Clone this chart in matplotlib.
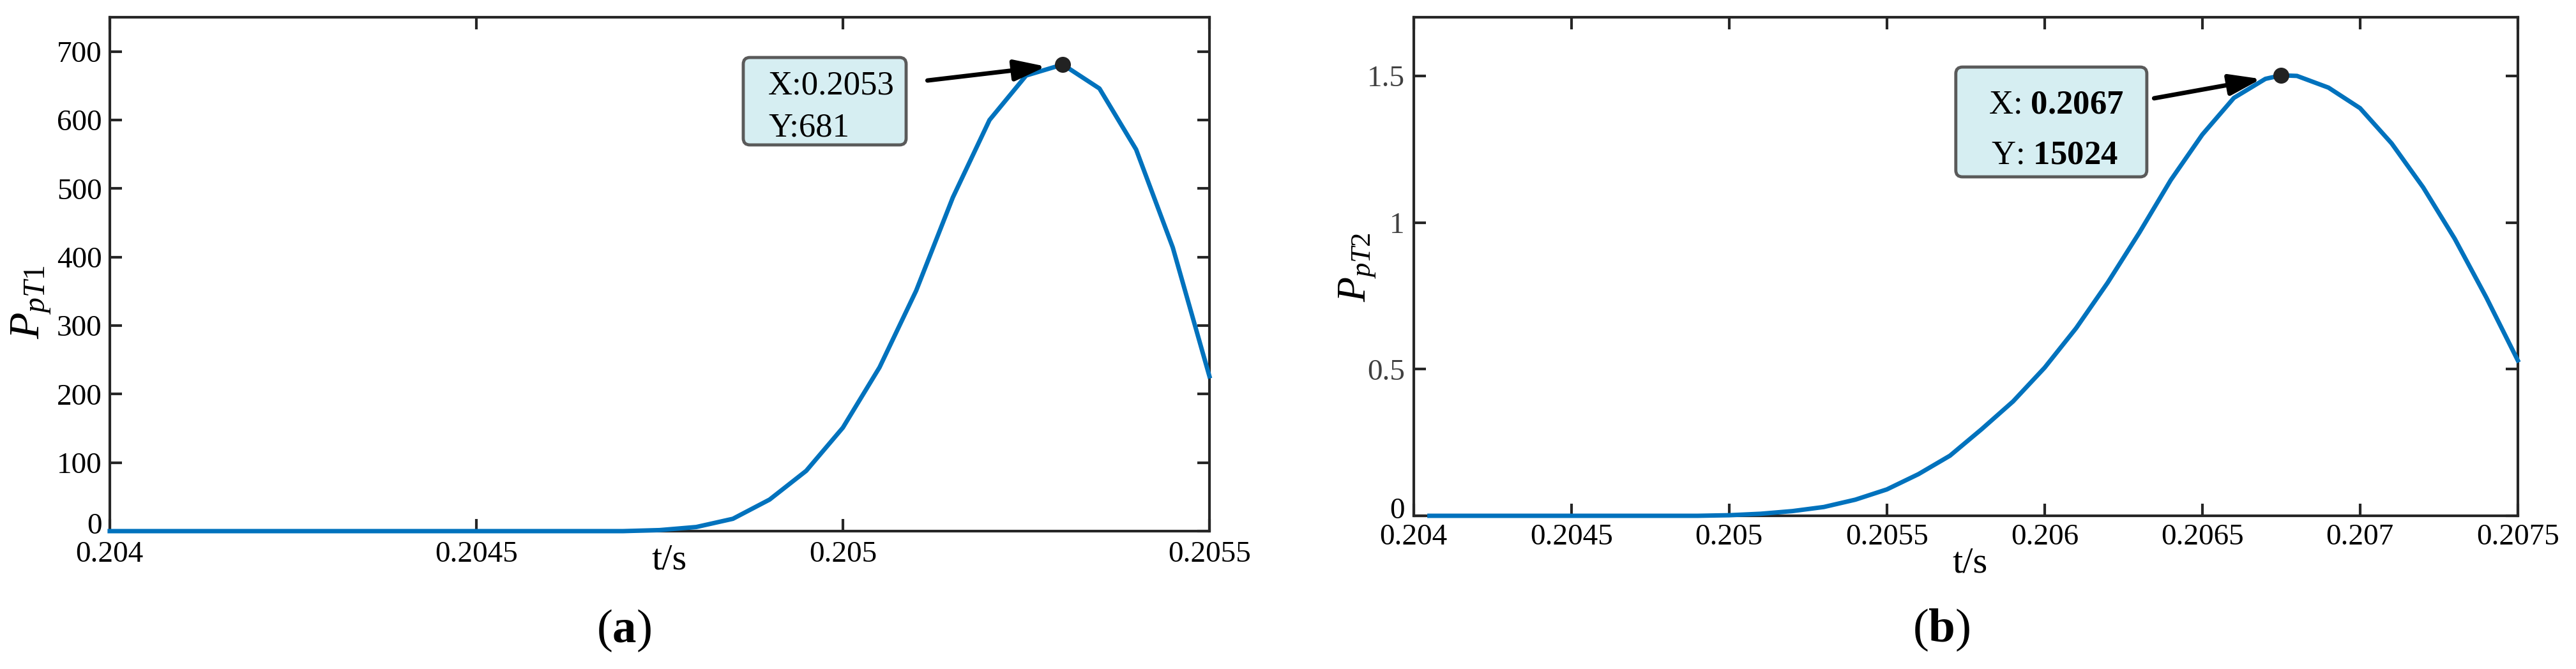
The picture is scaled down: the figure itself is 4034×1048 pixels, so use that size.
import matplotlib
matplotlib.use("Agg")
import matplotlib.pyplot as plt
from matplotlib.patches import FancyBboxPatch
from matplotlib.transforms import ScaledTranslation

# --- values ---
# (a) P_pT1 against time, sampled every 0.05 ms
t_a = [0.20400, 0.20470, 0.20475, 0.20480, 0.20485, 0.20490, 0.20495,
       0.20500, 0.20505, 0.20510, 0.20515, 0.20520, 0.20525, 0.20530,
       0.20535, 0.20540, 0.20545, 0.20550]
p_a = [0, 0, 1.5, 6, 18, 46, 88, 151, 239, 351, 487, 600, 665, 681,
       646, 557, 414, 226]
peak_a = (0.2053, 681)
xticks_a = [0.204, 0.2045, 0.205, 0.2055]
xtick_labels_a = ["0.204", "0.2045", "0.205", "0.2055"]
yticks_a = [0, 100, 200, 300, 400, 500, 600, 700]
ytick_labels_a = ["0", "100", "200", "300", "400", "500", "600", "700"]
datatip_a = ["X:0.2053", "Y:681"]

# (b) P_pT2 against time
t_b = [0.20405, 0.2049, 0.2050, 0.2051, 0.2052, 0.2053, 0.2054, 0.2055,
       0.2056, 0.2057, 0.2058, 0.2059, 0.2060, 0.2061, 0.2062, 0.2063,
       0.2064, 0.2065, 0.2066, 0.2067, 0.20675, 0.2068, 0.2069, 0.2070,
       0.2071, 0.2072, 0.2073, 0.2074, 0.2075]
p_b = [0, 0, 0.002, 0.007, 0.016, 0.030, 0.055, 0.090,
       0.142, 0.205, 0.295, 0.390, 0.505, 0.640, 0.795, 0.965,
       1.145, 1.300, 1.425, 1.490, 1.502, 1.500, 1.460, 1.390,
       1.270, 1.120, 0.945, 0.745, 0.530]
peak_b = (0.20675, 1.502)
xticks_b = [0.204, 0.2045, 0.205, 0.2055, 0.206, 0.2065, 0.207, 0.2075]
xtick_labels_b = ["0.204", "0.2045", "0.205", "0.2055", "0.206",
                  "0.2065", "0.207", "0.2075"]
yticks_b = [0, 0.5, 1, 1.5]
ytick_labels_b = ["0", "0.5", "1", "1.5"]
datatip_b = [r"X: $\mathbf{0.2067}$", r"Y: $\mathbf{15024}$"]

LINE_BLUE = "#0072BD"
AXIS_DARK = "#262626"
TIP_FACE = "#d6eef2"
TIP_EDGE = "#5a5a5a"

plt.rcParams["font.family"] = ["Liberation Serif", "DejaVu Serif"]
plt.rcParams["mathtext.fontset"] = "custom"
plt.rcParams["mathtext.rm"] = "Liberation Serif"
plt.rcParams["mathtext.it"] = "Liberation Serif:italic"
plt.rcParams["mathtext.bf"] = "Liberation Serif:bold"


def style_axes(ax, xpad, ypad):
    """MATLAB-like box axes with inward ticks on all four sides."""
    for side in ax.spines.values():
        side.set_linewidth(3)
        side.set_color(AXIS_DARK)
    ax.tick_params(direction="in", length=14, width=3, color=AXIS_DARK,
                   top=True, right=True, labelsize=34)
    ax.tick_params(axis="x", pad=xpad)
    ax.tick_params(axis="y", pad=ypad)


def lift_zero_label(ax, fig):
    """The '0' label sits a little above the corner, clear of the x labels."""
    lab = ax.yaxis.get_major_ticks()[0].label1
    lab.set_transform(lab.get_transform()
                      + ScaledTranslation(0, 0.12, fig.dpi_scale_trans))


def add_datatip(ax, peak, lines, box, text_pos, tail, shrink):
    """Black marker on the peak, light-blue tip box and an arrow."""
    ax.plot(peak[0], peak[1], "o", ms=17, color="#222222", zorder=6,
            clip_on=False)
    bb = ax.get_position()
    aspect = (bb.width * 4034) / (bb.height * 1048)
    ax.add_patch(FancyBboxPatch((box[0], box[1]), box[2], box[3],
                                boxstyle="round,pad=0,rounding_size=0.006",
                                mutation_aspect=aspect,
                                transform=ax.transAxes, facecolor=TIP_FACE,
                                edgecolor=TIP_EDGE, linewidth=3.5, zorder=4))
    for (x, y), s in zip(text_pos, lines):
        ax.text(x, y, s, transform=ax.transAxes, fontsize=38,
                ha="left", va="baseline", zorder=5)
    ax.annotate("", xy=peak, xytext=tail, textcoords="offset points",
                arrowprops=dict(arrowstyle="-|>,head_length=1.5,head_width=0.5",
                                mutation_scale=20, lw=5, color="black",
                                shrinkA=0, shrinkB=shrink, capstyle="round"),
                zorder=5)


fig = plt.figure(figsize=(40.34, 10.48), dpi=100)

# --- panel (a) ---
ax_a = fig.add_axes([0.0426, 0.2061, 0.4269, 0.7681])
ax_a.plot(t_a, p_a, color=LINE_BLUE, lw=5, clip_on=False, zorder=3)
ax_a.set_xlim(0.204, 0.2055)
ax_a.set_ylim(0, 750)
ax_a.set_xticks(xticks_a, labels=xtick_labels_a)
ax_a.set_yticks(yticks_a, labels=ytick_labels_a)
style_axes(ax_a, xpad=11, ypad=9)
lift_zero_label(ax_a, fig)
ax_a.set_xlabel("t/s", fontsize=42, va="center")
ax_a.xaxis.set_label_coords(0.509, -0.057)
ax_a.set_ylabel(r"$P_{pT1}$", fontsize=49, va="center")
ax_a.yaxis.set_label_coords(-0.071, 0.445)
add_datatip(ax_a, peak_a, datatip_a,
            box=(0.5761, 0.7516, 0.1481, 0.1701),
            text_pos=[(0.5987, 0.8509), (0.5987, 0.7689)],
            tail=(-152.6, -18.0), shrink=19)

# --- panel (b) ---
ax_b = fig.add_axes([0.5488, 0.2290, 0.4286, 0.7452])
ax_b.plot(t_b, p_b, color=LINE_BLUE, lw=5, clip_on=False, zorder=3)
ax_b.set_xlim(0.204, 0.2075)
ax_b.set_ylim(0, 1.7)
ax_b.set_xticks(xticks_b, labels=xtick_labels_b)
ax_b.set_yticks(yticks_b, labels=ytick_labels_b)
style_axes(ax_b, xpad=9, ypad=10)
lift_zero_label(ax_b, fig)
for lab in ax_b.get_yticklabels()[1:]:
    lab.set_color("#404040")
ax_b.set_xlabel("t/s", fontsize=42, va="center")
ax_b.xaxis.set_label_coords(0.504, -0.096)
ax_b.set_ylabel(r"$P_{pT2}$", fontsize=46, va="center")
ax_b.yaxis.set_label_coords(-0.051, 0.499)
add_datatip(ax_b, peak_b, datatip_b,
            box=(0.4910, 0.6799, 0.1730, 0.2202),
            text_pos=[(0.5205, 0.8067), (0.5228, 0.7068)],
            tail=(-143.3, -25.9), shrink=23)

# --- sub-figure captions ---
fig.text(0.2422, 0.0573, r"($\mathbf{a}$)", fontsize=54, ha="center",
         va="center")
fig.text(0.7536, 0.0580, r"($\mathbf{b}$)", fontsize=54, ha="center",
         va="center")

fig.savefig("out.png", dpi=100, facecolor="white")
